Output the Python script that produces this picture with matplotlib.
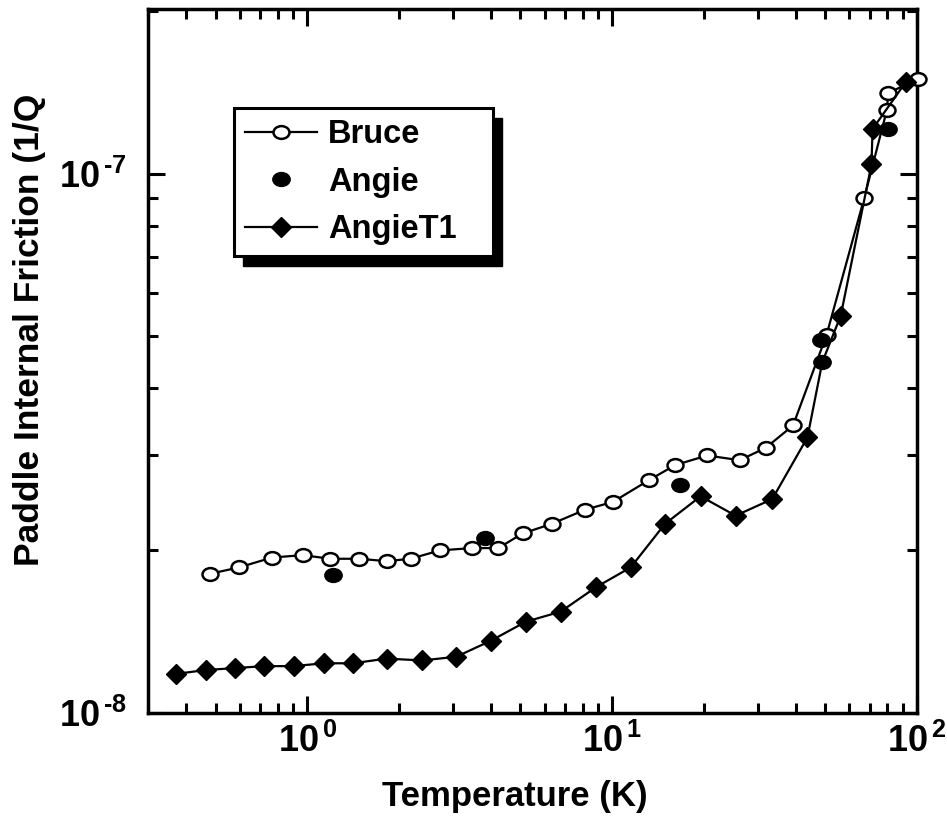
import math
import matplotlib
matplotlib.use('Agg')
import matplotlib.pyplot as plt
from matplotlib.markers import MarkerStyle
from matplotlib.transforms import Affine2D, IdentityTransform
from matplotlib.patches import Rectangle
from matplotlib.ticker import FuncFormatter, NullFormatter, LogLocator

# Bruce (open circles, line)
bruce_t = [0.479, 0.597, 0.765, 0.965, 1.19, 1.48, 1.82, 2.18, 2.72, 3.46, 4.23,
           5.08, 6.33, 8.15, 10.05, 13.2, 16.1, 20.5, 26.2, 31.9, 39.2, 50.5,
           67.1, 79.6, 80.5, 100.5]
bruce_q = [1.81e-8, 1.86e-8, 1.94e-8, 1.96e-8, 1.93e-8, 1.93e-8, 1.91e-8, 1.93e-8,
           2.00e-8, 2.02e-8, 2.02e-8, 2.15e-8, 2.24e-8, 2.38e-8, 2.46e-8, 2.70e-8,
           2.88e-8, 3.00e-8, 2.94e-8, 3.10e-8, 3.41e-8, 5.02e-8, 9.0e-8, 1.31e-7,
           1.41e-7, 1.50e-7]

# Angie (filled circles, no line)
angie_t = [1.21, 3.82, 16.7, 48.4, 48.9, 80.1]
angie_q = [1.80e-8, 2.11e-8, 2.65e-8, 4.91e-8, 4.47e-8, 1.21e-7]

# AngieT1 (filled diamonds, line)
t1_t = [0.370, 0.464, 0.580, 0.722, 0.901, 1.13, 1.41, 1.82, 2.38, 3.08, 4.00,
        5.21, 6.78, 8.86, 11.5, 14.9, 19.5, 25.4, 33.5, 43.7, 48.9, 56.2,
        70.9, 71.5, 92.0]
t1_q = [1.18e-8, 1.20e-8, 1.21e-8, 1.22e-8, 1.22e-8, 1.235e-8, 1.235e-8, 1.26e-8,
        1.25e-8, 1.27e-8, 1.36e-8, 1.475e-8, 1.54e-8, 1.71e-8, 1.86e-8, 2.24e-8,
        2.52e-8, 2.32e-8, 2.49e-8, 3.24e-8, 4.47e-8, 5.45e-8, 1.04e-7, 1.21e-7,
        1.48e-7]

plt.rcParams['font.family'] = ['Liberation Sans', 'DejaVu Sans']
plt.rcParams['font.weight'] = 'bold'
plt.rcParams['mathtext.fontset'] = 'custom'
plt.rcParams['mathtext.rm'] = 'Liberation Sans:bold'
plt.rcParams['mathtext.it'] = 'Liberation Sans:bold'
plt.rcParams['mathtext.bf'] = 'Liberation Sans:bold'

fig = plt.figure(figsize=(9.47, 8.31), dpi=100)
ax = fig.add_axes([148 / 947, 1 - 712.7 / 831, (917 - 148) / 947, (712.7 - 9) / 831])

oval = Affine2D().scale(1.0, 0.8)
ax.plot(bruce_t, bruce_q, color='black', lw=1.6,
        marker=MarkerStyle('o', transform=oval), ms=11.5, mfc='white', mec='black',
        mew=1.8, clip_on=False, label='Bruce', zorder=3)
ax.plot(angie_t, angie_q, linestyle='none', color='black',
        marker=MarkerStyle('o', transform=oval), ms=12.5, mfc='black', mec='black',
        clip_on=False, label='Angie', zorder=4)
skip = [i for i in range(len(t1_t)) if i != 20]
ax.plot(t1_t, t1_q, color='black', lw=1.6, marker='D', ms=10.5, mfc='black',
        mec='black', markevery=skip, clip_on=False, label='AngieT1', zorder=3)

ax.set_xscale('log')
ax.set_yscale('log')
ax.set_xlim(0.3, 100)
ax.set_ylim(1e-8, 2.02e-7)

for s in ax.spines.values():
    s.set_linewidth(2.5)

def pow_fmt(v, pos):
    e = int(round(math.log10(v)))
    return r'$\mathrm{10}^{\,\text{%d}}$' % e

ax.xaxis.set_major_locator(LogLocator(base=10, numticks=10))
ax.yaxis.set_major_locator(LogLocator(base=10, numticks=10))
ax.xaxis.set_minor_locator(LogLocator(base=10, subs=range(2, 10), numticks=20))
ax.yaxis.set_minor_locator(LogLocator(base=10, subs=range(2, 10), numticks=20))
ax.xaxis.set_major_formatter(FuncFormatter(pow_fmt))
ax.yaxis.set_major_formatter(FuncFormatter(pow_fmt))
ax.xaxis.set_minor_formatter(NullFormatter())
ax.yaxis.set_minor_formatter(NullFormatter())
ax.tick_params(which='both', direction='in', top=True, right=True, width=2.2)
ax.tick_params(which='major', length=12, labelsize=26)
ax.tick_params(axis='x', which='major', pad=8)
ax.tick_params(axis='y', which='major', pad=15)
ax.tick_params(which='minor', length=7)

fig.text(515 / 947, 1 - 806 / 831, 'Temperature (K)', ha='center', va='baseline',
         fontsize=25, fontweight='bold')
fig.text(30 / 947, 1 - 566 / 831, 'Paddle Internal Friction (1/Q', rotation=90,
         ha='center', va='bottom', fontsize=25.5, fontweight='bold')

leg = ax.legend(loc='upper left',
                bbox_to_anchor=(234 / 947, 1 - 252 / 831, 259 / 947, 144 / 831),
                bbox_transform=fig.transFigure, mode='expand', borderaxespad=0,
                fancybox=False, framealpha=1, edgecolor='black',
                prop={'size': 23.5, 'weight': 'bold'},
                handlelength=2.2, handletextpad=0.33, labelspacing=0.5,
                borderpad=0.35)
leg.get_frame().set_linewidth(2.2)
leg.set_zorder(6)

fig.canvas.draw()
bb = leg.get_window_extent()
ax.add_patch(Rectangle((bb.x0 + 9, bb.y0 - 10), bb.width, bb.height,
                       transform=IdentityTransform(), facecolor='black',
                       edgecolor='black', clip_on=False, zorder=5))

fig.savefig('out.png', dpi=100)
